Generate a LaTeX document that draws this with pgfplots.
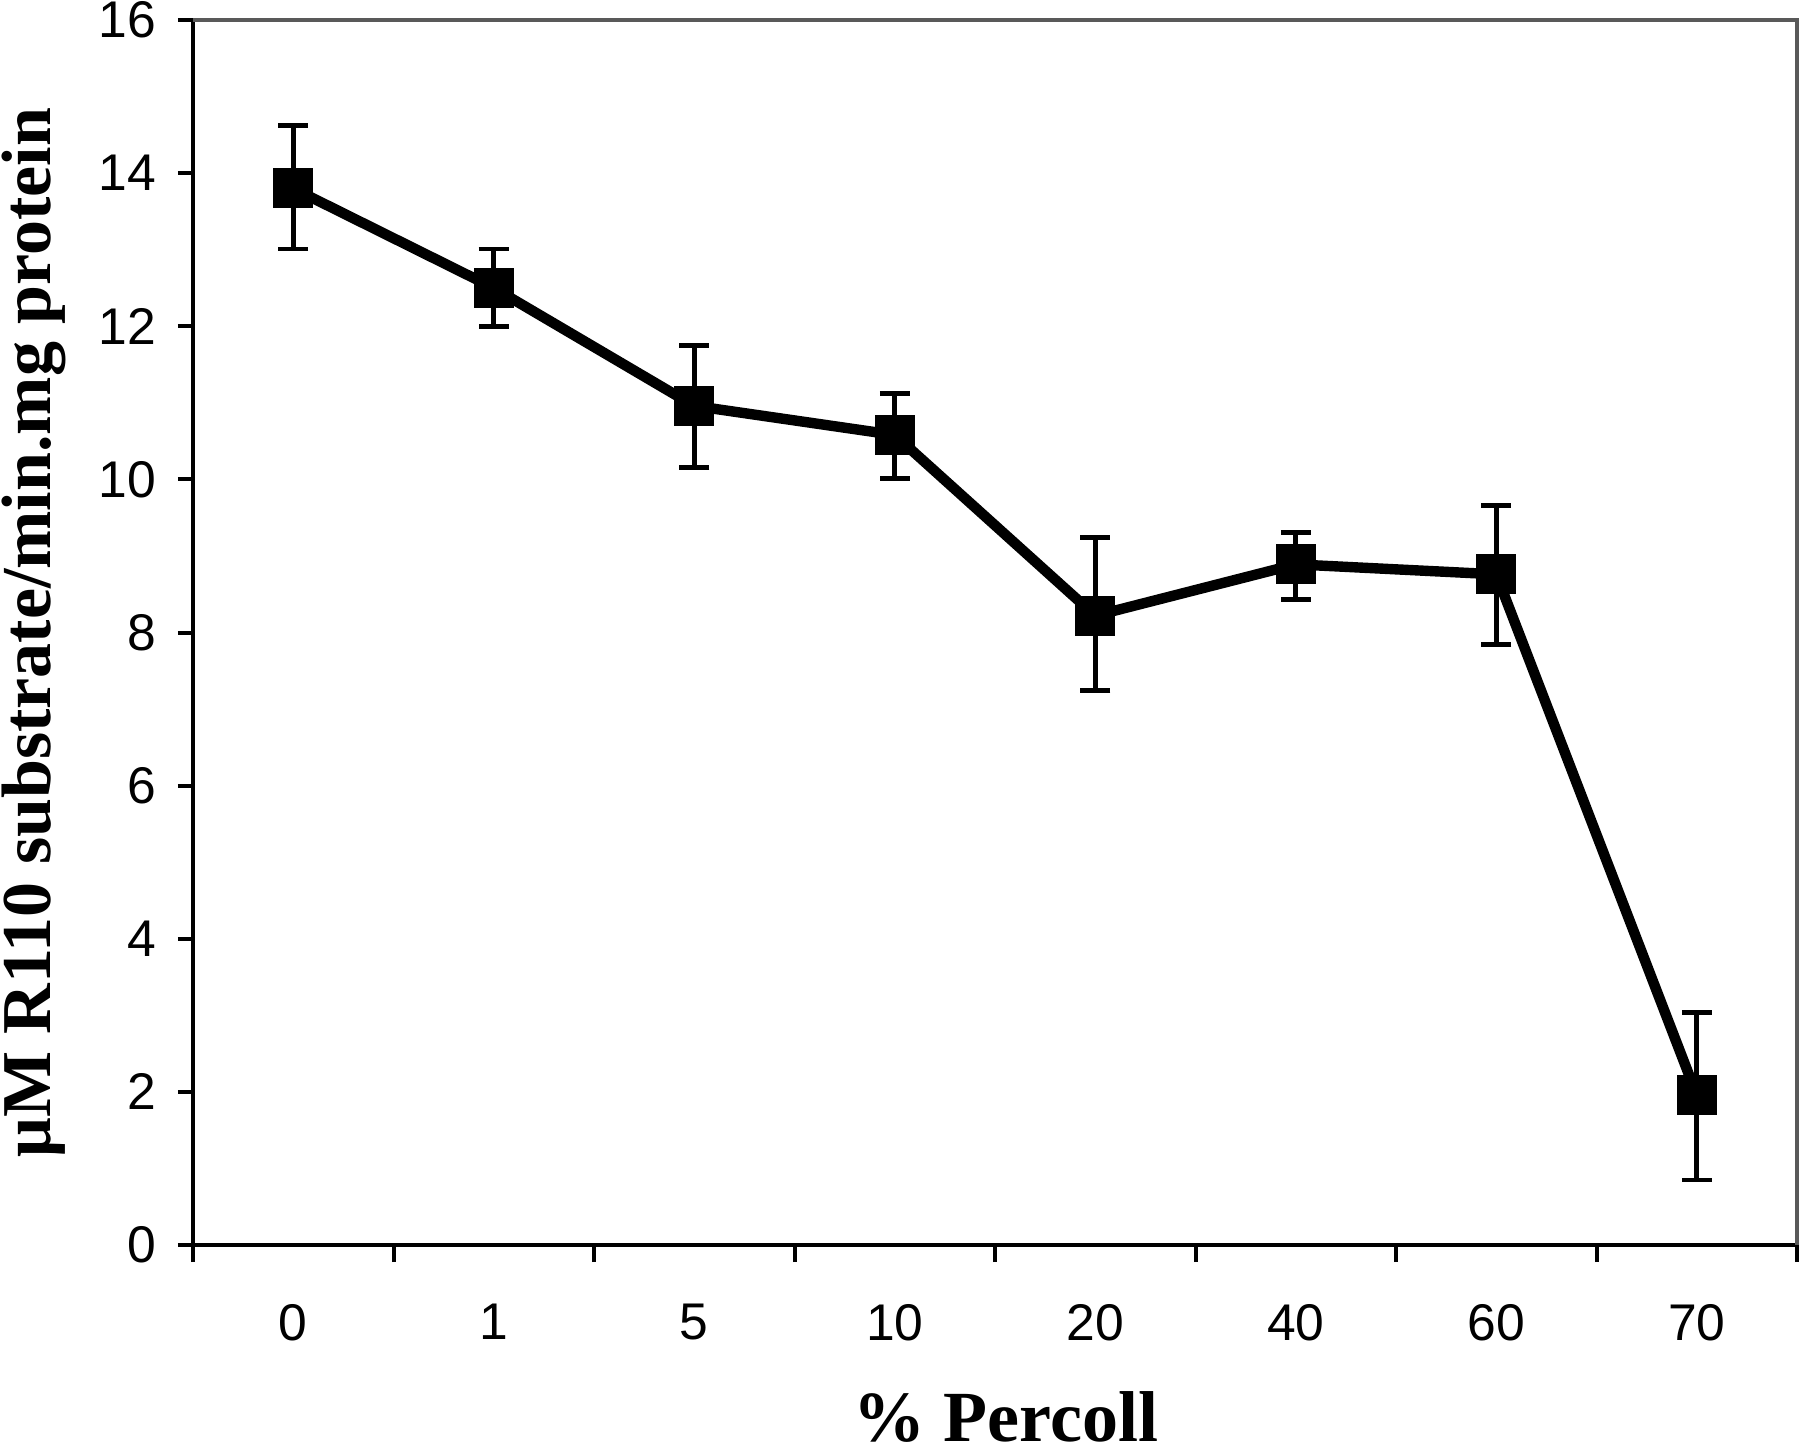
\documentclass[border=0pt]{standalone}
\usepackage{fontspec}
\setmainfont{Liberation Serif}
\setsansfont{Liberation Sans}
\usepackage{pgfplots}
\pgfplotsset{compat=1.18}
\usetikzlibrary{calc}
\begin{document}
\begin{tikzpicture}
\begin{axis}[
  scale only axis,
  width=401pt, height=306.25pt,
  xmin=-0.5, xmax=7.5, ymin=0, ymax=16,
  axis x line=bottom, axis y line=left,
  axis line style={-, line width=1pt, black},
  xtick={0,...,7},
  xticklabels={0,1,5,10,20,40,60,70},
  minor xtick={-0.5,0.5,...,7.5},
  ytick={0,2,...,16},
  tick align=outside,
  major x tick style={draw=none},
  minor x tick style={line width=1pt, black},
  minor tick length=4.25pt,
  major tick length=3.75pt,
  y tick style={line width=1pt, black},
  /pgf/number format/assume math mode=true,
  tick label style={font=\fontsize{12.9}{15}\selectfont\sffamily},
  xticklabel style={yshift=-7.5pt},
  yticklabel style={xshift=-2pt},
  xlabel={\fontsize{18}{20}\selectfont\bfseries \% Percoll},
  ylabel={\fontsize{17.5}{20}\selectfont\bfseries μM R110 substrate/min.mg protein},
  xlabel style={at={(axis description cs:0.507,0)}, anchor=north, yshift=-33pt},
  ylabel style={at={(axis description cs:0,0.5)}, anchor=base, yshift=35.5pt},
  clip=false,
]
\draw[line width=1pt, gray!70!black] (rel axis cs:0,1) -- (rel axis cs:1,1) -- (rel axis cs:1,0);
\addplot[black, line width=2.6pt, mark=square*, mark size=3.7pt,
  mark options={rounded corners=0.8pt},
  error bars/.cd, y dir=both, y explicit,
  error bar style={line width=1.2pt, black},
  error mark options={line width=1.2pt, mark size=3.75pt, rotate=90}]
  table[x=x, y=y, y error plus=ep, y error minus=em] {
x y ep em
0 13.80 0.82 0.79
1 12.50 0.51 0.50
2 10.96 0.79 0.80
3 10.58 0.54 0.57
4 8.22 1.02 0.98
5 8.89 0.42 0.46
6 8.76 0.90 0.92
7 1.96 1.08 1.11
};
\end{axis}
\pgfresetboundingbox
\path[use as bounding box] ($(current axis.south west)+(-48.25pt,-50.25pt)$) rectangle ($(current axis.north east)+(0.75pt,5pt)$);
\end{tikzpicture}
\end{document}
